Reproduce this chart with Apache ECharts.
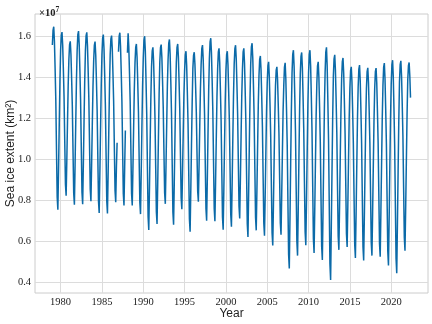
<!DOCTYPE html>
<html>
<head>
<meta charset="utf-8">
<script src="https://cdn.jsdelivr.net/npm/echarts@6/dist/echarts.min.js"></script>
<style>
  html, body { margin: 0; padding: 0; background: #fff; }
  #chart { width: 432px; height: 324px; }
</style>
</head>
<body>
<div id="chart"></div>
<script>
// Monthly Arctic sea ice extent, in units of 10^7 km² (Jan..Dec per row).
// null marks months with no observations.
const firstYear = 1979;
const extentByYear = [
  [1.556, 1.627, 1.645, 1.574, 1.440, 1.289, 1.048, 0.816, 0.754, 0.953, 1.169, 1.377], // 1979
  [1.531, 1.603, 1.619, 1.555, 1.436, 1.300, 1.085, 0.878, 0.822, 0.995, 1.183, 1.363], // 1980
  [1.487, 1.558, 1.574, 1.510, 1.391, 1.256, 1.041, 0.835, 0.779, 0.973, 1.185, 1.387], // 1981
  [1.531, 1.607, 1.624, 1.557, 1.430, 1.287, 1.059, 0.840, 0.781, 0.974, 1.183, 1.384], // 1982
  [1.528, 1.602, 1.618, 1.552, 1.429, 1.289, 1.067, 0.854, 0.796, 0.975, 1.169, 1.355], // 1983
  [1.481, 1.556, 1.573, 1.506, 1.381, 1.239, 1.014, 0.796, 0.738, 0.938, 1.155, 1.364], // 1984
  [1.511, 1.590, 1.607, 1.537, 1.407, 1.259, 1.023, 0.797, 0.736, 0.935, 1.152, 1.360], // 1985
  [1.513, 1.586, 1.602, 1.537, 1.415, 1.278, 1.059, 0.848, 0.791, 0.960, 1.080, null ], // 1986
  [1.523, 1.599, 1.616, 1.549, 1.423, 1.280, 1.053, 0.834, 0.775, 0.960, 1.140, null ], // 1987
  [null , 1.518, 1.613, 1.546, 1.420, 1.278, 1.052, 0.834, 0.775, 0.956, 1.152, 1.341], // 1988
  [1.470, 1.544, 1.561, 1.495, 1.371, 1.230, 1.006, 0.791, 0.733, 0.932, 1.149, 1.357], // 1989
  [1.495, 1.580, 1.599, 1.524, 1.382, 1.222, 0.967, 0.722, 0.656, 0.860, 1.083, 1.296], // 1990
  [1.450, 1.528, 1.545, 1.476, 1.347, 1.201, 0.969, 0.745, 0.685, 0.886, 1.104, 1.314], // 1991
  [1.473, 1.543, 1.558, 1.496, 1.380, 1.248, 1.039, 0.837, 0.783, 0.967, 1.167, 1.359], // 1992
  [1.484, 1.565, 1.583, 1.511, 1.376, 1.222, 0.979, 0.744, 0.681, 0.883, 1.103, 1.315], // 1993
  [1.473, 1.545, 1.561, 1.497, 1.376, 1.239, 1.022, 0.813, 0.757, 0.934, 1.126, 1.311], // 1994
  [1.429, 1.508, 1.526, 1.456, 1.324, 1.174, 0.937, 0.709, 0.647, 0.848, 1.067, 1.276], // 1995
  [1.441, 1.506, 1.521, 1.463, 1.354, 1.230, 1.033, 0.844, 0.793, 0.968, 1.159, 1.342], // 1996
  [1.462, 1.539, 1.556, 1.488, 1.359, 1.214, 0.983, 0.761, 0.701, 0.905, 1.127, 1.340], // 1997
  [1.491, 1.571, 1.589, 1.518, 1.384, 1.233, 0.992, 0.760, 0.698, 0.892, 1.102, 1.304], // 1998
  [1.443, 1.522, 1.540, 1.469, 1.337, 1.187, 0.948, 0.719, 0.657, 0.857, 1.074, 1.283], // 1999
  [1.432, 1.509, 1.526, 1.458, 1.330, 1.184, 0.954, 0.732, 0.672, 0.875, 1.096, 1.308], // 2000
  [1.462, 1.538, 1.555, 1.488, 1.361, 1.218, 0.990, 0.771, 0.712, 0.902, 1.109, 1.308], // 2001
  [1.439, 1.522, 1.540, 1.467, 1.329, 1.173, 0.925, 0.686, 0.622, 0.839, 1.075, 1.301], // 2002
  [1.465, 1.547, 1.565, 1.492, 1.355, 1.201, 0.955, 0.718, 0.654, 0.849, 1.062, 1.265], // 2003
  [1.407, 1.486, 1.503, 1.433, 1.302, 1.153, 0.917, 0.689, 0.628, 0.823, 1.034, 1.237], // 2004
  [1.376, 1.456, 1.474, 1.402, 1.268, 1.116, 0.875, 0.643, 0.580, 0.780, 0.998, 1.206], // 2005
  [1.360, 1.434, 1.450, 1.385, 1.262, 1.123, 0.903, 0.690, 0.633, 0.825, 1.034, 1.235], // 2006
  [1.359, 1.449, 1.469, 1.389, 1.239, 1.069, 0.798, 0.538, 0.468, 0.712, 0.978, 1.233], // 2007
  [1.421, 1.511, 1.531, 1.451, 1.301, 1.131, 0.861, 0.601, 0.531, 0.758, 1.006, 1.243], // 2008
  [1.417, 1.501, 1.520, 1.445, 1.304, 1.144, 0.891, 0.647, 0.581, 0.800, 1.037, 1.265], // 2009
  [1.422, 1.511, 1.531, 1.452, 1.304, 1.136, 0.870, 0.613, 0.544, 0.758, 0.990, 1.214], // 2010
  [1.368, 1.455, 1.474, 1.397, 1.252, 1.088, 0.828, 0.577, 0.510, 0.748, 1.007, 1.255], // 2011
  [1.420, 1.522, 1.545, 1.454, 1.284, 1.092, 0.786, 0.491, 0.412, 0.664, 0.938, 1.201], // 2012
  [1.404, 1.489, 1.508, 1.432, 1.290, 1.128, 0.872, 0.625, 0.559, 0.774, 1.007, 1.231], // 2013
  [1.392, 1.475, 1.493, 1.419, 1.281, 1.125, 0.877, 0.637, 0.573, 0.775, 0.994, 1.204], // 2014
  [1.348, 1.431, 1.450, 1.376, 1.236, 1.078, 0.827, 0.585, 0.520, 0.736, 0.970, 1.195], // 2015
  [1.353, 1.439, 1.458, 1.382, 1.239, 1.078, 0.821, 0.574, 0.507, 0.723, 0.957, 1.182], // 2016
  [1.344, 1.427, 1.445, 1.372, 1.235, 1.079, 0.833, 0.595, 0.531, 0.741, 0.969, 1.188], // 2017
  [1.343, 1.426, 1.444, 1.371, 1.233, 1.077, 0.829, 0.590, 0.526, 0.743, 0.978, 1.204], // 2018
  [1.360, 1.448, 1.468, 1.389, 1.241, 1.074, 0.808, 0.552, 0.483, 0.713, 0.963, 1.202], // 2019
  [1.368, 1.461, 1.482, 1.399, 1.243, 1.067, 0.787, 0.518, 0.445, 0.683, 0.941, 1.189], // 2020
  [1.377, 1.461, 1.479, 1.405, 1.266, 1.109, 0.860, 0.620, 0.555, 0.766, 0.995, 1.215], // 2021
  [1.385, 1.455, 1.471, 1.405, 1.300]                                                     // 2022
];

const yearTicks = [1980, 1985, 1990, 1995, 2000, 2005, 2010, 2015, 2020];
const extentTicks = [0.4, 0.6, 0.8, 1.0, 1.2, 1.4, 1.6];

// Flatten to [decimal year, extent] pairs; months sit at the start of each month.
const points = [];
extentByYear.forEach((row, i) => {
  row.forEach((v, m) => {
    points.push([firstYear + i + m / 12, v]);
  });
});

const serif = '"Liberation Serif", "DejaVu Serif", serif';
const sans = '"Liberation Sans", Arial, sans-serif';
const gridColor = '#dcdcdc';

const chart = echarts.init(document.getElementById('chart'), null, { renderer: 'canvas' });
chart.setOption({
  animation: false,
  backgroundColor: '#ffffff',
  title: {
    text: '{a|×10}{b|7}',
    left: 34,
    top: 1,
    textStyle: {
      rich: {
        a: { fontFamily: serif, fontSize: 10.5, color: '#222', verticalAlign: 'bottom' },
        b: { fontFamily: serif, fontSize: 7.5, color: '#222', verticalAlign: 'top', padding: [0, 0, 5, 0] }
      }
    }
  },
  grid: {
    left: 35, right: 4, top: 14, bottom: 31,
    outerBoundsMode: 'none',
    containLabel: false,
    show: true, borderColor: '#cccccc', borderWidth: 1
  },
  xAxis: {
    type: 'value',
    min: 1976.9,
    max: 2024.45,
    name: 'Year',
    nameLocation: 'middle',
    nameGap: 15,
    nameMoveOverlap: false,
    nameTextStyle: { fontFamily: sans, fontSize: 12, color: '#222' },
    axisLine: { show: false },
    axisTick: { show: false, customValues: yearTicks },
    axisLabel: {
      customValues: yearTicks,
      formatter: v => String(Math.round(v)),
      fontFamily: serif, fontSize: 10.5, color: '#222', margin: 4
    },
    splitLine: { show: true, lineStyle: { color: gridColor, width: 1 } }
  },
  yAxis: {
    type: 'value',
    min: 0.349,
    max: 1.707,
    name: 'Sea ice extent (km²)',
    nameLocation: 'middle',
    nameGap: 18,
    nameMoveOverlap: false,
    nameTextStyle: { fontFamily: sans, fontSize: 12, color: '#222' },
    axisLine: { show: false },
    axisTick: { show: false, customValues: extentTicks },
    axisLabel: {
      customValues: extentTicks,
      formatter: v => v.toFixed(1),
      fontFamily: serif, fontSize: 10.5, color: '#222', margin: 4
    },
    splitLine: { show: true, lineStyle: { color: gridColor, width: 1 } }
  },
  series: [{
    type: 'line',
    data: points,
    showSymbol: false,
    connectNulls: false,
    lineStyle: { color: '#0b6aa8', width: 1.5 },
    itemStyle: { color: '#0b6aa8' }
  }]
});
</script>
</body>
</html>
